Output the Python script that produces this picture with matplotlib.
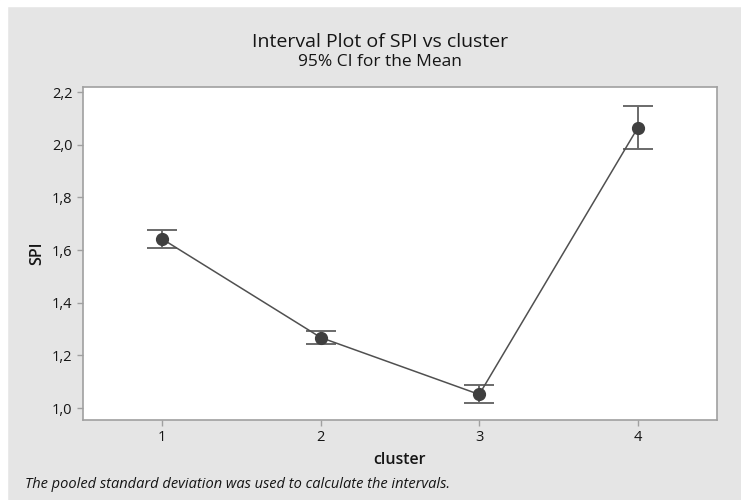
import matplotlib.pyplot as plt
from matplotlib.patches import Rectangle

plt.rcParams['font.family'] = ['Open Sans', 'DejaVu Sans']

# data
clusters = [1, 2, 3, 4]
spi_mean = [1.642, 1.268, 1.052, 2.064]
ci_low = [1.608, 1.243, 1.020, 1.985]
ci_high = [1.675, 1.294, 1.087, 2.145]
y_ticks = [1.0, 1.2, 1.4, 1.6, 1.8, 2.0, 2.2]
y_tick_labels = ['1,0', '1,2', '1,4', '1,6', '1,8', '2,0', '2,2']

bg = '#e5e5e5'
txt = '#151515'
fig = plt.figure(figsize=(7.41, 5.00), dpi=100, facecolor=bg)
# thin white strip along the top and left edge
fig.patches.append(Rectangle((0, 0.988), 1, 0.012, transform=fig.transFigure,
                             color='white', zorder=-1))
fig.patches.append(Rectangle((0, 0), 0.0095, 1, transform=fig.transFigure,
                             color='white', zorder=-1))

ax = fig.add_axes([0.112, 0.16, 0.8556, 0.666])
ax.set_facecolor('white')

yerr = [[m - lo for m, lo in zip(spi_mean, ci_low)],
        [hi - m for m, hi in zip(spi_mean, ci_high)]]
ax.errorbar(clusters, spi_mean, yerr=yerr, fmt='none', ecolor='#6a6a6a',
            elinewidth=1.4, capsize=10.5, capthick=1.4, zorder=2)
ax.plot(clusters, spi_mean, color='#505050', lw=1.1, zorder=3)
ax.plot(clusters, spi_mean, 'o', color='#3f3f3f', ms=8.5, zorder=4)

ax.set_xlim(0.5, 4.5)
ax.set_ylim(0.955, 2.219)
ax.set_xticks(clusters)
ax.set_xticklabels([str(c) for c in clusters])
ax.set_yticks(y_ticks)
ax.set_yticklabels(y_tick_labels)

for s in ax.spines.values():
    s.set_color('#a0a0a0')
    s.set_linewidth(1.2)
ax.tick_params(colors='#a0a0a0', labelcolor=txt, labelsize=10.5,
               length=4, width=1)

ax.set_xlabel('cluster', fontsize=11.5, fontweight='semibold', color=txt,
              labelpad=5)
ax.set_ylabel('SPI', fontsize=11.5, fontweight='semibold', color=txt,
              labelpad=5)

fig.text(0.513, 0.916, 'Interval Plot of SPI vs cluster', ha='center',
         va='center', fontsize=14, color=txt)
fig.text(0.513, 0.876, '95% CI for the Mean', ha='center', va='center',
         fontsize=12.5, color=txt)
fig.text(0.034, 0.03, 'The pooled standard deviation was used to calculate the intervals.',
         ha='left', va='center', fontsize=10.5, style='italic', color=txt)

fig.savefig('out.png', dpi=100, facecolor=bg)
